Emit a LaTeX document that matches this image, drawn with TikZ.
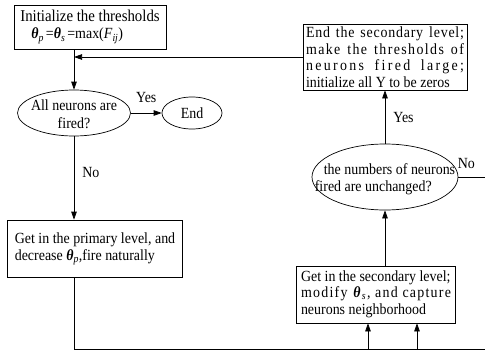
\documentclass[tikz,border=0pt]{standalone}
\usepackage{fontspec}
\setmainfont{Liberation Serif}[FakeStretch=0.9]
\usetikzlibrary{shapes.geometric,arrows.meta}
\newcommand\thsub[1]{\textbf{\textit{θ}}\textsubscript{\textit{#1}}}
\begin{document}
\begin{tikzpicture}[x=1pt,y=-1pt,
  font=\fontsize{15.5}{16.5}\selectfont,
  line width=0.7pt,
  >={Triangle[length=8pt,width=5.5pt]},
  box/.style={draw, rectangle, inner sep=0pt},
  oval/.style={draw, ellipse, inner sep=0pt},
  txt/.style={inner sep=0pt, align=left},
  lbl/.style={inner sep=0pt}]
\useasboundingbox (0,0) rectangle (485,351);

% nodes
\node[box, minimum width=152pt, minimum height=44pt, align=left] (init) at (90,27)
  {{\fontsize{16.5}{17}\selectfont Initialize the thresholds}\\[0.5pt]\hspace{11pt}\thsub{p}\hspace{2pt}=\thsub{s}\hspace{2pt}=max(\textit{F}\textsubscript{\textit{ij}})};

\node[oval, minimum width=113pt, minimum height=46pt] (q1) at (74,113) {};
\node[lbl, align=center] (q1t) at (74,114) {All neurons are\\[1pt]fired?};

\node[oval, minimum width=60pt, minimum height=32pt] (end) at (192,113) {End};

\node[box, minimum width=175pt, minimum height=57pt] (prim) at (94.5,248.5) {};
\node[txt] (primT) at (95,249) {Get in the primary level, and\\decrease \thsub{p},fire naturally};

\node[box, minimum width=159pt, minimum height=57pt] (sec) at (375.5,294.5) {};
\node[txt] (secT) at (376,294)
  {Get in the secondary level;\\
   \makebox[150pt][s]{\addfontfeature{LetterSpace=8}modify \thsub{s}, and capture}\\
   neurons neighborhood};

\node[oval, minimum width=146pt, minimum height=66pt] (q2) at (385,177) {};
\node[txt] (q2t) at (385,179) {\hspace{9pt}the numbers of neurons\\fired are unchanged?};

\node[box, minimum width=164pt, minimum height=66pt] (endsec) at (385,57) {};
\node[txt] (endsecT) at (385,57)
  {\makebox[158pt][s]{\addfontfeature{LetterSpace=5}End the secondary level;}\\
   \makebox[158pt][s]{\addfontfeature{LetterSpace=9}make the thresholds of}\\
   \makebox[158pt][s]{\addfontfeature{LetterSpace=15}neurons fired large;}\\
   initialize all Y to be zeros};

% coordinates
\coordinate (j1) at (74,57);
\coordinate (bl) at (74,349.5);
\coordinate (br) at (485,349.5);
\coordinate (a1) at (368,349.5);
\coordinate (a2) at (417,349.5);
\coordinate (nr) at (485,177);

% connectors
\draw[->] (endsec.west) -- (j1);
\draw[->] (init.south -| q1.north) -- (q1.north);
\draw[->] (q1.east) -- (end.west) node[lbl, midway, above=10pt] {Yes};
\draw[->] (q1.south) -- (prim.north -| q1.south) node[lbl, pos=0.43, right=8pt] {No};
\draw (prim.south -| q1.south) -- (bl) -- (br);
\draw[->] (a1) -- (a1 |- sec.south);
\draw[->] (a2) -- (a2 |- sec.south);
\draw[->] (sec.north -| q2.south) -- (q2.south);
\draw[->] (q2.north) -- (q2.north |- endsec.south) node[lbl, midway, right=8pt] {Yes};
\draw (q2.east) -- (nr) node[lbl, pos=0.3, above=8pt] {No};
\end{tikzpicture}
\end{document}
